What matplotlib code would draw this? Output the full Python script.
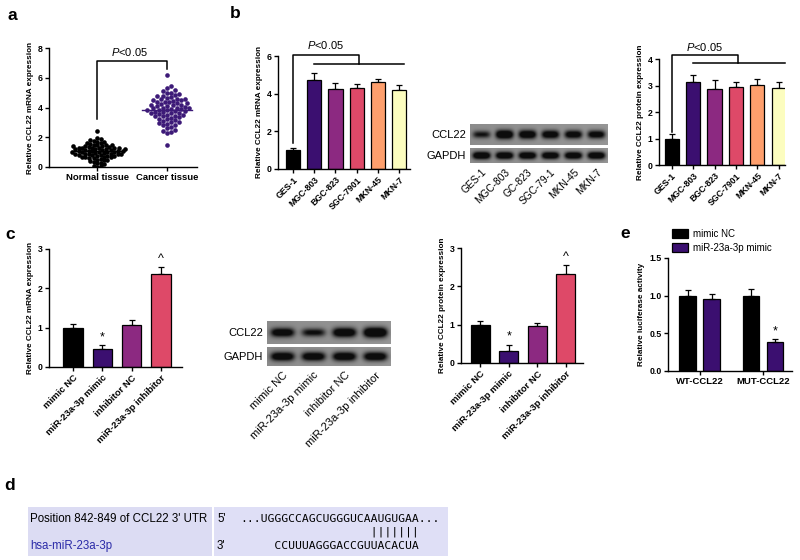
import numpy as np
import matplotlib.pyplot as plt
from matplotlib.patches import Rectangle

plt.rcParams['font.family'] = ['Liberation Sans', 'DejaVu Sans']
plt.rcParams['mathtext.fontset'] = 'custom'
plt.rcParams['mathtext.it'] = 'Liberation Sans:italic'
plt.rcParams['mathtext.rm'] = 'Liberation Sans'

# ---- data ----
normal_tissue = [2.45, 1.95, 1.85, 1.8, 1.75, 1.7, 1.65, 1.6, 1.6, 1.55, 1.5, 1.5, 1.45,
                 1.45, 1.4, 1.4, 1.35, 1.35, 1.3, 1.3, 1.3, 1.25, 1.25, 1.2, 1.2, 1.2,
                 1.15, 1.15, 1.1, 1.1, 1.1, 1.05, 1.05, 1.0, 1.0, 1.0, 0.95, 0.95, 0.9,
                 0.9, 0.9, 0.85, 0.85, 0.8, 0.8, 0.8, 0.75, 0.75, 0.7, 0.7, 0.65, 0.65,
                 0.6, 0.6, 0.55, 0.5, 0.5, 0.45, 0.4, 0.35, 0.3, 0.25, 0.2, 0.1, 0.05,
                 1.28, 1.12, 0.98, 0.88, 1.38, 1.18, 0.72, 1.02, 0.02]
cancer_tissue = [6.2, 5.45, 5.3, 5.2, 5.1, 5.0, 4.95, 4.9, 4.85, 4.8, 4.75, 4.7, 4.65,
                 4.6, 4.6, 4.55, 4.5, 4.5, 4.45, 4.4, 4.4, 4.35, 4.3, 4.3, 4.25, 4.2,
                 4.2, 4.15, 4.1, 4.1, 4.05, 4.0, 4.0, 3.95, 3.95, 3.9, 3.9, 3.85, 3.8,
                 3.8, 3.75, 3.75, 3.7, 3.7, 3.65, 3.6, 3.6, 3.55, 3.5, 3.5, 3.45, 3.4,
                 3.4, 3.35, 3.3, 3.25, 3.2, 3.15, 3.1, 3.05, 3.0, 2.95, 2.9, 2.85, 2.8,
                 2.7, 2.6, 2.5, 2.4, 2.35, 2.3, 1.45]
tissue_labels = ['Normal tissue', 'Cancer tissue']
tissue_medians = [1.05, 3.85]

cell_lines = ['GES-1', 'MGC-803', 'BGC-823', 'SGC-7901', 'MKN-45', 'MKN-7']
cell_colors = ['#000000', '#3b0f70', '#8c2981', '#de4968', '#fe9f6d', '#fcfdbf']
mrna_cells = [1.0, 4.7, 4.25, 4.28, 4.6, 4.17]
mrna_cells_err = [0.1, 0.4, 0.3, 0.22, 0.2, 0.3]
protein_cells = [1.0, 3.15, 2.87, 2.95, 3.03, 2.9]
protein_cells_err = [0.17, 0.25, 0.32, 0.18, 0.2, 0.25]
blot_b_labels = ['GES-1', 'MGC-803', 'GC-823', 'SGC-79-1', 'MKN-45', 'MKN-7']
blot_b_ccl22 = [0.5, 0.85, 0.8, 0.75, 0.72, 0.7]
blot_b_gapdh = [0.85, 0.82, 0.82, 0.82, 0.82, 0.85]

groups = ['mimic NC', 'miR-23a-3p mimic', 'inhibitor NC', 'miR-23a-3p inhibitor']
group_colors = ['#000000', '#3b0f70', '#8c2981', '#de4968']
mrna_groups = [1.0, 0.47, 1.07, 2.37]
mrna_groups_err = [0.1, 0.08, 0.12, 0.17]
protein_groups = [1.0, 0.32, 0.97, 2.33]
protein_groups_err = [0.1, 0.15, 0.08, 0.22]
group_marks = ['', '*', '', '^']
blot_c_ccl22 = [0.72, 0.55, 0.82, 0.95]
blot_c_gapdh = [0.75, 0.75, 0.78, 0.78]

luc_groups = ['WT-CCL22', 'MUT-CCL22']
luc_series = ['mimic NC', 'miR-23a-3p mimic']
luc_nc = [1.0, 1.0]
luc_nc_err = [0.07, 0.09]
luc_mimic = [0.96, 0.38]
luc_mimic_err = [0.06, 0.05]

W, H = 800, 560
fig = plt.figure(figsize=(8, 5.6), dpi=100)

TICK_FS = 6.3
YLAB_FS = 5.9


def px_axes(l, t, r, b):
    return fig.add_axes([l / W, 1 - b / H, (r - l) / W, (b - t) / H])


def style(ax):
    for s in ['top', 'right']:
        ax.spines[s].set_visible(False)
    for s in ['left', 'bottom']:
        ax.spines[s].set_linewidth(1.0)
    ax.tick_params(length=3, width=1.0, labelsize=TICK_FS, pad=1.5)
    for t in ax.get_yticklabels():
        t.set_fontweight('bold')


def bar_panel(ax, vals, errs, colors, labels, ymax, ylabel, rot=45):
    x = np.arange(len(vals))
    ax.bar(x, vals, 0.66, color=colors, edgecolor='black', linewidth=0.9, zorder=2)
    ax.errorbar(x, vals, yerr=[np.zeros(len(errs)), errs], fmt='none', ecolor='black',
                elinewidth=0.9, capsize=2.5, capthick=0.9, zorder=1)
    ax.set_ylim(0, ymax)
    ax.set_yticks(np.arange(0, ymax + 0.1, 1))
    ax.set_xticks(x)
    ax.set_xticklabels(labels, rotation=rot, ha='right', rotation_mode='anchor',
                       fontweight='bold')
    ax.set_ylabel(ylabel, fontsize=YLAB_FS, fontweight='bold', labelpad=3)
    style(ax)


def swarm(vals, xscale, yscale, d, maxw):
    order = np.argsort(vals)
    placed = []
    offs = np.zeros(len(vals))
    for i in order:
        y = vals[i] * yscale
        k = 0
        while True:
            cands = [0.0] if k == 0 else [k * d * 0.5, -k * d * 0.5]
            done = False
            for c in cands:
                if abs(c) > maxw or all((c - px) ** 2 + (y - py) ** 2 >= d ** 2 for px, py in placed):
                    c = float(np.clip(c, -maxw, maxw))
                    placed.append((c, y))
                    offs[i] = c / xscale
                    done = True
                    break
            if done:
                break
            k += 1
    return offs


def bracket_b(ax, y_start, y_top, x_mid, y_low, x_end, ptxt_y):
    ax.plot([0, 0, x_mid, x_mid], [y_start, y_top, y_top, y_low], color='black', lw=1.1,
            clip_on=False)
    ax.plot([1, x_end], [y_low, y_low], color='black', lw=1.1, clip_on=False)
    ax.text(1.55, ptxt_y, r'$P$<0.05', ha='center', va='center', fontsize=8)


def blot(ax, ccl, gapdh, lane_w, labels, h1, gap, h2, label_size):
    n = len(ccl)
    Wb = n * lane_w
    xx = np.linspace(0, Wb, int(Wb * 3))
    for top, h, amps, thick in [(0, h1, ccl, h1 * 0.17), (h1 + gap, h2, gapdh, h2 * 0.2)]:
        yy = np.linspace(top, top + h, int(h * 3))
        X, Y = np.meshgrid(xx, yy)
        img = np.full(X.shape, 0.55) + 0.04 * (X / Wb)
        for i, a in enumerate(amps):
            cx = (i + 0.5) * lane_w
            cy = top + h / 2
            img -= a * np.exp(-(np.abs(X - cx) / (lane_w * 0.38)) ** 4) * \
                np.exp(-((Y - cy) / (thick * (0.7 + a * 0.6))) ** 2)
        ax.imshow(np.clip(img, 0.05, 1), cmap='gray', vmin=0, vmax=1,
                  extent=(0, Wb, top + h, top), aspect='auto', interpolation='bilinear')
    ax.set_xlim(0, Wb)
    ax.set_ylim(h1 + gap + h2, 0)
    for s in ax.spines.values():
        s.set_visible(False)
    ax.set_yticks([])
    ax.set_xticks((np.arange(n) + 0.5) * lane_w)
    ax.set_xticklabels(labels, rotation=45, ha='right', rotation_mode='anchor',
                       fontsize=label_size)
    ax.tick_params(length=0, pad=3)
    ax.text(-4, h1 / 2, 'CCL22', ha='right', va='center', fontsize=8)
    ax.text(-4, h1 + gap + h2 / 2, 'GAPDH', ha='right', va='center', fontsize=8)


# ---- panel a ----
ax = px_axes(49, 48, 197, 167)
xs, ys = 70.0, 15.0
off_n = swarm(np.array(normal_tissue), xs, ys, 3.4, 28)
off_c = swarm(np.array(cancer_tissue), xs, ys, 4.0, 33)
ax.scatter(off_n, normal_tissue, s=11, color='black', lw=0, zorder=3)
ax.scatter(1 + off_c, cancer_tissue, s=11, color='#3d1a78', lw=0, zorder=3)
for i, m in enumerate(tissue_medians):
    ax.plot([i - 0.36, i + 0.36], [m, m], color='black' if i == 0 else '#3d1a78', lw=1,
            zorder=4)
ax.plot([0, 0, 1, 1], [3.2, 7.1, 7.1, 6.6], color='black', lw=1.1)
ax.text(0.47, 7.7, r'$P$<0.05', ha='center', va='center', fontsize=8)
ax.set_xlim(-0.69, 1.43)
ax.set_ylim(0, 8)
ax.set_yticks([0, 2, 4, 6, 8])
ax.set_xticks([0, 1])
ax.set_xticklabels(tissue_labels, fontweight='bold')
ax.set_ylabel('Relative CCL22 mRNA expression', fontsize=YLAB_FS, fontweight='bold',
              labelpad=3)
style(ax)
ax.tick_params(axis='x', length=3, labelsize=6.8)

# ---- panel b ----
ax = px_axes(278, 56, 410, 169)
bar_panel(ax, mrna_cells, mrna_cells_err, cell_colors, cell_lines, 6,
          'Relative CCL22 mRNA expression')
ax.set_yticks([0, 2, 4, 6])
ax.set_xlim(-0.7, 5.5)
bracket_b(ax, 1.4, 6.05, 3.1, 5.6, 5.2, 6.6)

ax = px_axes(470, 124, 608, 163)
blot(ax, blot_b_ccl22, blot_b_gapdh, 23, blot_b_labels, 21, 3, 15, 7.3)

ax = px_axes(659, 59, 785, 165)
bar_panel(ax, protein_cells, protein_cells_err, cell_colors, cell_lines, 4,
          'Relative CCL22 protein expression')
ax.set_xlim(-0.6, 5.3)
bracket_b(ax, 1.25, 4.15, 3.1, 3.85, 5.3, 4.45)

# ---- panel c ----
ax = px_axes(49, 249, 182, 367)
bar_panel(ax, mrna_groups, mrna_groups_err, group_colors, groups, 3,
          'Relative CCL22 mRNA expression')
ax.set_xlim(-0.82, 3.72)
ax.tick_params(axis='x', labelsize=6.8)
for i, mk in enumerate(group_marks):
    if mk:
        ax.text(i, mrna_groups[i] + mrna_groups_err[i] + 0.06, mk, ha='center',
                va='bottom', fontsize=9)

ax = px_axes(267, 321, 391, 366)
blot(ax, blot_c_ccl22, blot_c_gapdh, 31, groups, 23, 3, 19, 8)

ax = px_axes(461, 248, 583, 363)
bar_panel(ax, protein_groups, protein_groups_err, group_colors, groups, 3,
          'Relative CCL22 protein expression')
ax.set_xlim(-0.67, 3.6)
ax.tick_params(axis='x', labelsize=6.8)
for i, mk in enumerate(group_marks):
    if mk:
        ax.text(i, protein_groups[i] + protein_groups_err[i] + 0.06, mk, ha='center',
                va='bottom', fontsize=9)

# ---- panel e ----
ax = px_axes(668, 258, 792, 371)
xg = np.arange(len(luc_groups))
ax.bar(xg - 0.19, luc_nc, 0.26, color='black', edgecolor='black', lw=0.9,
       label=luc_series[0], zorder=2)
ax.bar(xg + 0.19, luc_mimic, 0.26, color='#3b0f70', edgecolor='black', lw=0.9,
       label=luc_series[1], zorder=2)
ax.errorbar(xg - 0.19, luc_nc, yerr=[[0, 0], luc_nc_err], fmt='none', ecolor='black',
            elinewidth=0.9, capsize=2.5, capthick=0.9)
ax.errorbar(xg + 0.19, luc_mimic, yerr=[[0, 0], luc_mimic_err], fmt='none',
            ecolor='black', elinewidth=0.9, capsize=2.5, capthick=0.9)
ax.text(1.19, luc_mimic[1] + luc_mimic_err[1] + 0.02, '*', ha='center', va='bottom',
        fontsize=9)
ax.set_xlim(-0.5, 1.46)
ax.set_ylim(0, 1.5)
ax.set_yticks([0, 0.5, 1.0, 1.5])
ax.set_yticklabels(['0.0', '0.5', '1.0', '1.5'])
ax.set_xticks(xg)
ax.set_xticklabels(luc_groups, fontweight='bold')
ax.set_ylabel('Relative luciferase activity', fontsize=YLAB_FS, fontweight='bold',
              labelpad=3)
style(ax)
ax.tick_params(axis='x', labelsize=6.8)
ax.legend(loc='upper left', bbox_to_anchor=(672 / W, 1 - 229 / H),
          bbox_transform=fig.transFigure, frameon=False, fontsize=7,
          handlelength=1.6, handleheight=1.1, labelspacing=0.4, borderaxespad=0,
          borderpad=0, handletextpad=0.6)

# ---- panel d ----
ax = px_axes(0, 470, 800, 560)
ax.set_xlim(0, 800)
ax.set_ylim(560, 470)
ax.axis('off')
ax.add_patch(Rectangle((28, 507), 184, 49, facecolor='#dcdcf3', edgecolor='none'))
ax.add_patch(Rectangle((214, 507), 234, 49, facecolor='#dfdff6', edgecolor='none'))
ax.text(30, 519, "Position 842-849 of CCL22 3' UTR", ha='left', va='center', fontsize=8.3)
ax.text(30, 546, 'hsa-miR-23a-3p', ha='left', va='center', fontsize=8.3, color='#2b2ba8')
ax.text(217, 519, "5'", ha='left', va='center', fontsize=8.3)
ax.text(217, 546, "3'", ha='left', va='center', fontsize=8.3)
top_seq = '...UGGGCCAGCUGGGUCAAUGUGAA...'
bot_seq = '     CCUUUAGGGACCGUUACACUA'
pairs = ' ' * 19 + '|||||||'
for row, y in [(top_seq, 519), (pairs, 532), (bot_seq, 546)]:
    ax.text(240, y, row, ha='left', va='center', fontsize=8.2, family='DejaVu Sans Mono')

# ---- panel letters ----
for letter, x, y in [('a', 12, 16), ('b', 235, 14), ('c', 10, 234), ('d', 10, 486),
                     ('e', 625, 233)]:
    fig.text(x / W, 1 - y / H, letter, ha='center', va='center', fontsize=12.5,
             fontweight='bold')

fig.savefig('out.png', dpi=100)
